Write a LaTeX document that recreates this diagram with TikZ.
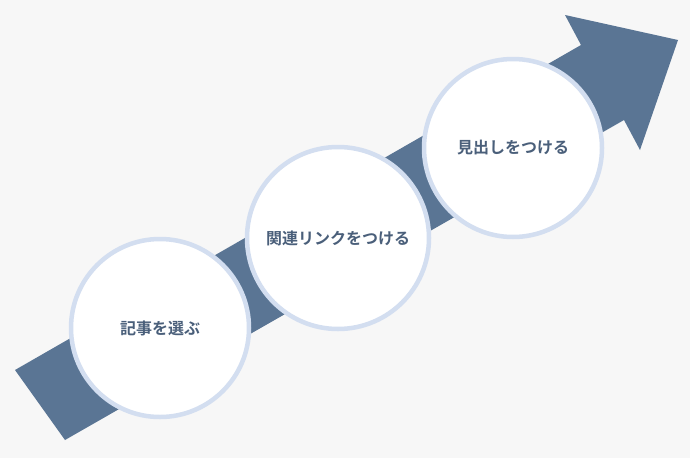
\documentclass[tikz,border=0pt]{standalone}
\usepackage{fontspec}
\newfontfamily\jpfont{Noto Sans CJK JP}[BoldFont={Noto Sans CJK JP Bold}]
\definecolor{bgcol}{HTML}{F7F7F7}
\definecolor{arrowcol}{HTML}{5A7594}
\definecolor{ringcol}{HTML}{D3DEF0}
\definecolor{textcol}{HTML}{4A5F7A}
\tikzset{
  stepcircle/.style={circle,fill=white,draw=ringcol,line width=4.5pt,
    font=\jpfont\bfseries\fontsize{16}{18}\selectfont,text=textcol},
}
\begin{document}
\begin{tikzpicture}[x=1pt,y=-1pt]
	\fill[bgcol] (0,0) rectangle (690,458);
	\useasboundingbox (0,0) rectangle (690,458);
	% big arrow
	\fill[arrowcol] (15,370)--(581,45)--(565,15)--(678,40)--(640,150)--(624,120)--(65,440)--cycle;
	% steps
	\node[stepcircle,minimum size=178pt] (select) at (160,328) {記事を選ぶ};
	\node[stepcircle,minimum size=182pt] (related) at (338,238) {関連リンクをつける};
	\node[stepcircle,minimum size=178pt] (heading) at (513,148) {見出しをつける};
\end{tikzpicture}
\end{document}
